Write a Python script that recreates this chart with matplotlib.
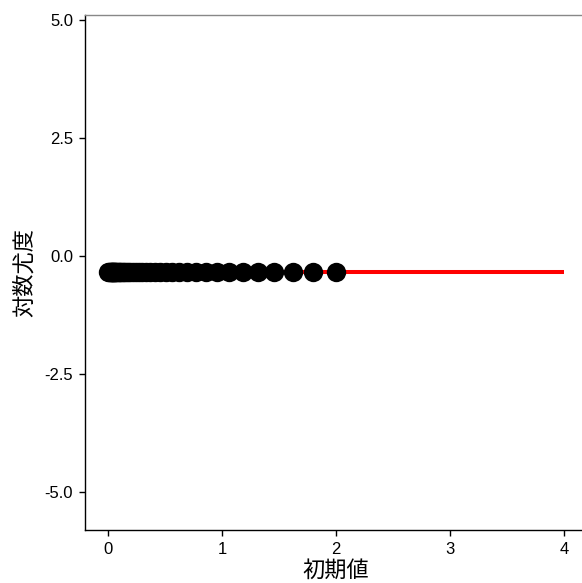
import matplotlib
matplotlib.use("Agg")
import matplotlib.pyplot as plt

plt.rcParams['font.family'] = ['Liberation Sans', 'Noto Sans CJK JP', 'DejaVu Sans']

# initial values tried and their log-likelihood
init_x = [2.0, 1.8, 1.62, 1.458, 1.312, 1.181, 1.063, 0.957, 0.861, 0.775,
          0.697, 0.628, 0.565, 0.508, 0.458, 0.412, 0.371, 0.334, 0.300, 0.270,
          0.243, 0.219, 0.197, 0.177, 0.160, 0.144, 0.129, 0.116, 0.105, 0.094,
          0.085, 0.076, 0.069, 0.062, 0.056, 0.050, 0.045, 0.041, 0.036, 0.033,
          0.030, 0.020, 0.010, 0.0]
loglik = [-0.35] * len(init_x)

# maximum log-likelihood line
line_x = [0, 4]
line_y = [-0.35, -0.35]

x_ticks = [0, 1, 2, 3, 4]
y_ticks = [-5.0, -2.5, 0.0, 2.5, 5.0]
y_ticklabels = ["-5.0", "-2.5", "0.0", "2.5", "5.0"]


def main():
    fig = plt.figure(figsize=(5.82, 5.83), dpi=100)
    ax = fig.add_axes([85 / 582, 53 / 583, 502 / 582, 515 / 583])

    ax.plot(line_x, line_y, color='red', lw=2.9, solid_capstyle='butt', zorder=2)
    ax.scatter(init_x, loglik, s=195, color='black', linewidths=0, zorder=3)

    ax.set_xlim(-0.2, 4.2)
    ax.set_ylim(-5.8, 5.1)
    ax.set_xticks(x_ticks)
    ax.set_yticks(y_ticks)
    ax.set_yticklabels(y_ticklabels)

    ax.spines['right'].set_visible(False)
    ax.spines['top'].set_color('#888888')
    ax.spines['top'].set_linewidth(1.0)
    for s in ('left', 'bottom'):
        ax.spines[s].set_linewidth(1.0)
        ax.spines[s].set_color('black')

    ax.tick_params(direction='out', length=4.5, width=1.0, labelsize=12,
                   colors='black', pad=4)

    ax.set_xlabel('初期値', fontsize=16, labelpad=3)
    ax.set_ylabel('対数尤度', fontsize=16, labelpad=6)

    fig.savefig('out.png', dpi=100)


if __name__ == "__main__":
    main()
